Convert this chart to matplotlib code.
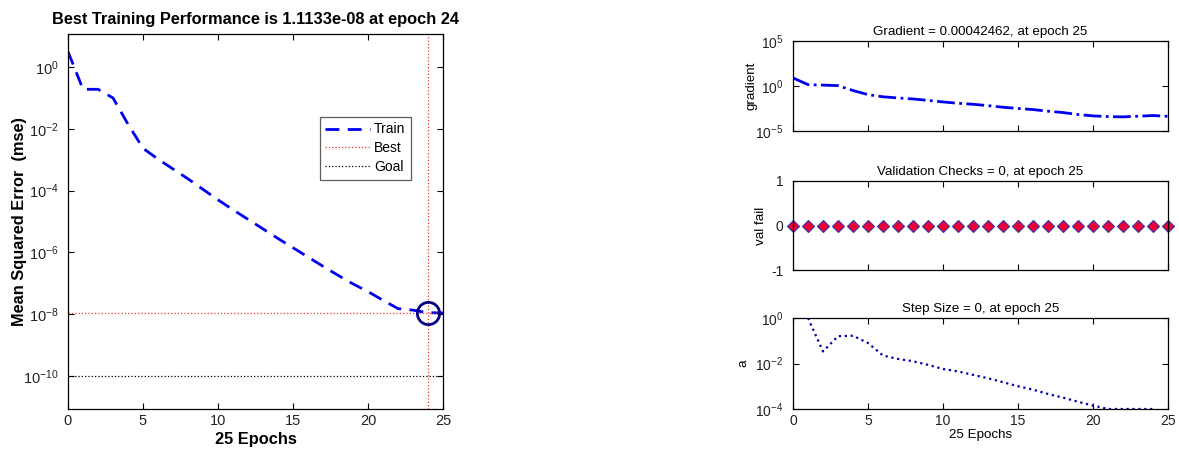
"""Training record plots: performance, gradient, validation checks, step size."""

import matplotlib
matplotlib.use("Agg")
import matplotlib.pyplot as plt
import numpy as np
from matplotlib.ticker import LogLocator, NullFormatter, NullLocator

plt.rcParams["font.family"] = ["Liberation Sans", "DejaVu Sans"]
plt.rcParams["axes.unicode_minus"] = False

# epochs 0..25
epochs = list(range(26))
train_log10 = [0.5, -0.72, -0.72, -1.0, -1.85, -2.63, -2.98, -3.3, -3.62, -3.96,
               -4.3, -4.62, -4.93, -5.24, -5.55, -5.85, -6.15, -6.45, -6.74, -7.02,
               -7.27, -7.55, -7.82, -7.87, -7.953, -7.96]
best_epoch = 24
best_perf = 1.1133e-8
goal = 1e-10

grad_log10 = [0.9, 0.15, 0.1, 0.04, -0.5, -0.96, -1.2, -1.33, -1.44, -1.6,
              -1.77, -1.92, -2.03, -2.18, -2.36, -2.5, -2.62, -2.8, -2.95, -3.17,
              -3.32, -3.4, -3.43, -3.36, -3.28, -3.372]
val_fail = [0] * 26
# step size starts at epoch 1, last value (epoch 25) is 0 -> not on log axis
step_epochs = list(range(1, 25))
step_log10 = [0.0, -1.47, -0.8, -0.78, -1.1, -1.65, -1.8, -1.9, -2.06, -2.24,
              -2.35, -2.5, -2.65, -2.82, -3.0, -3.15, -3.34, -3.5, -3.68, -3.85,
              -4.0, -4.0, -4.0, -4.0]

W, H = 1179, 453
fig = plt.figure(figsize=(W / 100, H / 100), dpi=100)


def px_axes(left, top, right, bottom):
    return fig.add_axes([left / W, 1 - bottom / H, (right - left) / W, (bottom - top) / H])


def matlab_ticks(ax, size=10):
    ax.tick_params(direction="in", top=True, right=True, length=4, width=0.8,
                   labelsize=size, colors="black", labelcolor="#222222")
    ax.tick_params(axis="y", pad=7)
    ax.tick_params(which="minor", length=0)
    for s in ax.spines.values():
        s.set_linewidth(0.9)


# ---- performance ----
ax = px_axes(68, 34, 443, 409)
ax.semilogy(epochs, 10 ** np.array(train_log10), color="#0000ee", linestyle=(0, (5, 3)),
            linewidth=2, label="Train")
ax.axvline(best_epoch, color="#ee3333", linestyle=":", linewidth=0.9)
ax.axhline(best_perf, color="#ee3333", linestyle=":", linewidth=0.9, label="Best")
ax.axhline(goal, color="black", linestyle=":", linewidth=0.9, label="Goal")
ax.plot([best_epoch], [best_perf], "o", markersize=16, markerfacecolor="none",
        markeredgecolor="#000080", markeredgewidth=2)
ax.set_xlim(0, 25)
ax.set_ylim(10 ** -11.07, 10 ** 1.07)
ax.yaxis.set_major_locator(LogLocator(base=100))
ax.yaxis.set_minor_locator(NullLocator())
ax.set_xticks(range(0, 26, 5))
matlab_ticks(ax, 10.5)
ax.set_title("Best Training Performance is 1.1133e-08 at epoch 24",
             fontsize=11.8, fontweight="bold", pad=7)
ax.set_xlabel("25 Epochs", fontsize=11.8, fontweight="bold", labelpad=3)
ax.set_ylabel("Mean Squared Error  (mse)", fontsize=11.8, fontweight="bold")
ax.yaxis.set_label_coords(-0.109, 0.5)
leg = ax.legend(loc="upper right", bbox_to_anchor=(0.914, 0.779), fontsize=10,
                frameon=True, fancybox=False, edgecolor="#333333",
                handlelength=3.2, handletextpad=0.3, borderpad=0.4, labelspacing=0.35,
                borderaxespad=0)
leg.get_frame().set_linewidth(0.9)

# ---- gradient ----
ax1 = px_axes(793, 41, 1168, 131)
ax1.semilogy(epochs, 10 ** np.array(grad_log10), color="#0000ee", linestyle="-.",
             linewidth=2)
ax1.set_xlim(0, 25)
ax1.set_ylim(1e-5, 1e5)
ax1.set_yticks([1e-5, 1e0, 1e5])
ax1.yaxis.set_minor_locator(NullLocator())
ax1.set_xticks(range(0, 26, 5))
ax1.xaxis.set_major_formatter(NullFormatter())
matlab_ticks(ax1)
ax1.set_title("Gradient = 0.00042462, at epoch 25", fontsize=9.6, pad=4)
ax1.set_ylabel("gradient", fontsize=9.6)
ax1.yaxis.set_label_coords(-0.096, 0.5)

# ---- validation checks ----
ax2 = px_axes(793, 181, 1168, 270)
ax2.plot(epochs, val_fail, linestyle="none", marker="D", markersize=6,
         markerfacecolor="#ee0033", markeredgecolor="#3333aa", markeredgewidth=0.8,
         clip_on=False)
ax2.set_xlim(0, 25)
ax2.set_ylim(-1, 1)
ax2.set_yticks([-1, 0, 1])
ax2.set_xticks(range(0, 26, 5))
ax2.xaxis.set_major_formatter(NullFormatter())
matlab_ticks(ax2)
ax2.set_title("Validation Checks = 0, at epoch 25", fontsize=9.6, pad=4)
ax2.set_ylabel("val fail", fontsize=9.6)
ax2.yaxis.set_label_coords(-0.069, 0.5)

# ---- step size ----
ax3 = px_axes(793, 318, 1168, 409)
ax3.semilogy(step_epochs, 10 ** np.array(step_log10), color="#0000aa", linestyle=":",
             linewidth=1.6)
ax3.set_xlim(0, 25)
ax3.set_ylim(1e-4, 1e0)
ax3.set_yticks([1e-4, 1e-2, 1e0])
ax3.yaxis.set_minor_locator(NullLocator())
ax3.set_xticks(range(0, 26, 5))
matlab_ticks(ax3)
ax3.set_title("Step Size = 0, at epoch 25", fontsize=9.6, pad=4)
ax3.set_xlabel("25 Epochs", fontsize=9.6, labelpad=1)
ax3.set_ylabel("a", fontsize=9.6)
ax3.yaxis.set_label_coords(-0.117, 0.5)

fig.savefig("out.png", dpi=100, facecolor="white")
